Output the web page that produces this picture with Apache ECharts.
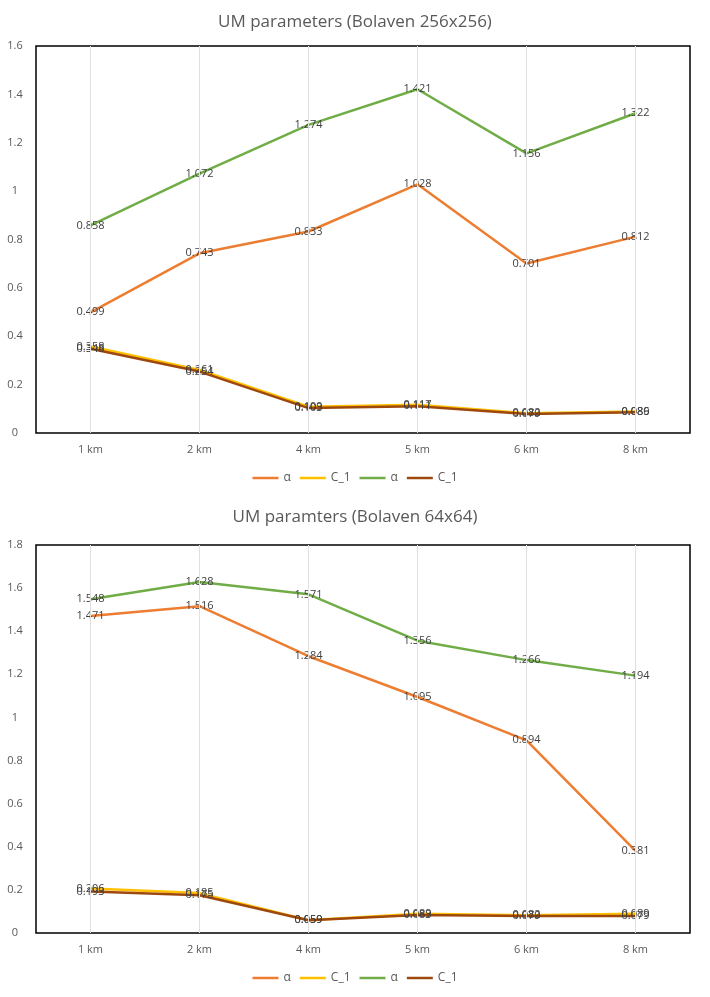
<!DOCTYPE html>
<html><head><meta charset="utf-8">
<script src="https://cdn.jsdelivr.net/npm/echarts@6/dist/echarts.min.js"></script>
<style>html,body{margin:0;padding:0;background:#fff}#c{width:710px;height:997px}</style>
</head><body><div id="c"></div>
<script>
var categories = ['1 km', '2 km', '4 km', '5 km', '6 km', '8 km'];
var yTicks1 = [0, 0.2, 0.4, 0.6, 0.8, 1, 1.2, 1.4, 1.6];
var yTicks2 = [0, 0.2, 0.4, 0.6, 0.8, 1, 1.2, 1.4, 1.6, 1.8];

var title1 = 'UM parameters (Bolaven 256x256)';
var title2 = 'UM paramters (Bolaven 64x64)';

// chart 1
var alphaA1 = [0.499, 0.743, 0.833, 1.028, 0.701, 0.812];
var c1A1    = [0.358, 0.261, 0.109, 0.117, 0.082, 0.089];
var alphaB1 = [0.858, 1.072, 1.274, 1.421, 1.156, 1.322];
var c1B1    = [0.348, 0.254, 0.103, 0.111, 0.079, 0.086];
// chart 2
var alphaA2 = [1.471, 1.516, 1.284, 1.095, 0.894, 0.381];
var c1A2    = [0.206, 0.185, 0.059, 0.089, 0.082, 0.089];
var alphaB2 = [1.548, 1.628, 1.571, 1.356, 1.266, 1.194];
var c1B2    = [0.193, 0.175, 0.059, 0.083, 0.079, 0.079];

var colors = ['#ED7D31', '#FFC000', '#70AD47', '#9E480E'];
var FONT = 'Open Sans';

function mkSeries(name, data, color, idx, withGrid) {
  var s = {
    name: name, type: 'line', data: data, xAxisIndex: idx, yAxisIndex: idx,
    showSymbol: true, symbol: 'circle', symbolSize: 0.01,
    lineStyle: { color: color, width: 2.5 }, itemStyle: { color: color },
    labelLayout: { hideOverlap: false },
    label: { show: true, position: 'inside', offset: [0, 2], color: '#404040', fontSize: 11, fontFamily: FONT,
      formatter: function (p) { return p.value.toFixed(3).replace(/0+$/, '').replace(/\.$/, ''); } }
  };
  if (withGrid) {
    s.markLine = { silent: true, symbol: 'none', label: { show: false },
      lineStyle: { color: '#e0e0e0', width: 1, type: 'solid' },
      data: categories.map(function (c) { return { xAxis: c }; }) };
  }
  return s;
}

function xAx(idx) {
  return { type: 'category', gridIndex: idx, data: categories, boundaryGap: true,
    axisLine: { show: false }, axisTick: { show: false }, splitLine: { show: false },
    axisLabel: { color: '#595959', fontSize: 11, fontFamily: FONT, margin: 11 } };
}
function yAx(idx, ticks) {
  return { type: 'value', gridIndex: idx, min: ticks[0], max: ticks[ticks.length - 1], interval: 0.2,
    axisLine: { show: false }, axisTick: { show: false }, splitLine: { show: false },
    axisLabel: { color: '#595959', fontSize: 11, fontFamily: FONT, margin: 21, align: 'center',
      formatter: function (v) { return String(Math.round(v * 10) / 10); } } };
}
var fmt = function (n) { return n.split(' ')[0]; };
var legendCommon = { icon: 'rect', itemWidth: 26, itemHeight: 2.5, itemGap: 9, left: 'center',
  textStyle: { color: '#595959', fontSize: 12, fontFamily: FONT }, formatter: fmt };

var option = {
  animation: false,
  backgroundColor: '#fff',
  title: [
    { text: title1, left: 'center', top: 9, textStyle: { color: '#595959', fontSize: 17, fontWeight: 'normal', fontFamily: FONT } },
    { text: title2, left: 'center', top: 504, textStyle: { color: '#595959', fontSize: 17, fontWeight: 'normal', fontFamily: FONT } }
  ],
  legend: [
    Object.assign({ top: 467, data: ['α (1)', 'C_1 (1)', 'α (2)', 'C_1 (2)'] }, legendCommon),
    Object.assign({ top: 967, data: ['α (3)', 'C_1 (3)', 'α (4)', 'C_1 (4)'] }, legendCommon)
  ],
  grid: [
    { left: 36, right: 20, top: 46, height: 387, show: true, borderColor: '#000', borderWidth: 1.5, backgroundColor: 'transparent' },
    { left: 36, right: 20, top: 545, height: 388, show: true, borderColor: '#000', borderWidth: 1.5, backgroundColor: 'transparent' }
  ],
  xAxis: [xAx(0), xAx(1)],
  yAxis: [yAx(0, yTicks1), yAx(1, yTicks2)],
  series: [
    mkSeries('α (1)', alphaA1, colors[0], 0, true),
    mkSeries('C_1 (1)', c1A1, colors[1], 0),
    mkSeries('α (2)', alphaB1, colors[2], 0),
    mkSeries('C_1 (2)', c1B1, colors[3], 0),
    mkSeries('α (3)', alphaA2, colors[0], 1, true),
    mkSeries('C_1 (3)', c1A2, colors[1], 1),
    mkSeries('α (4)', alphaB2, colors[2], 1),
    mkSeries('C_1 (4)', c1B2, colors[3], 1)
  ]
};
var chart = echarts.init(document.getElementById('c'));
chart.setOption(option);
</script>
</body></html>
